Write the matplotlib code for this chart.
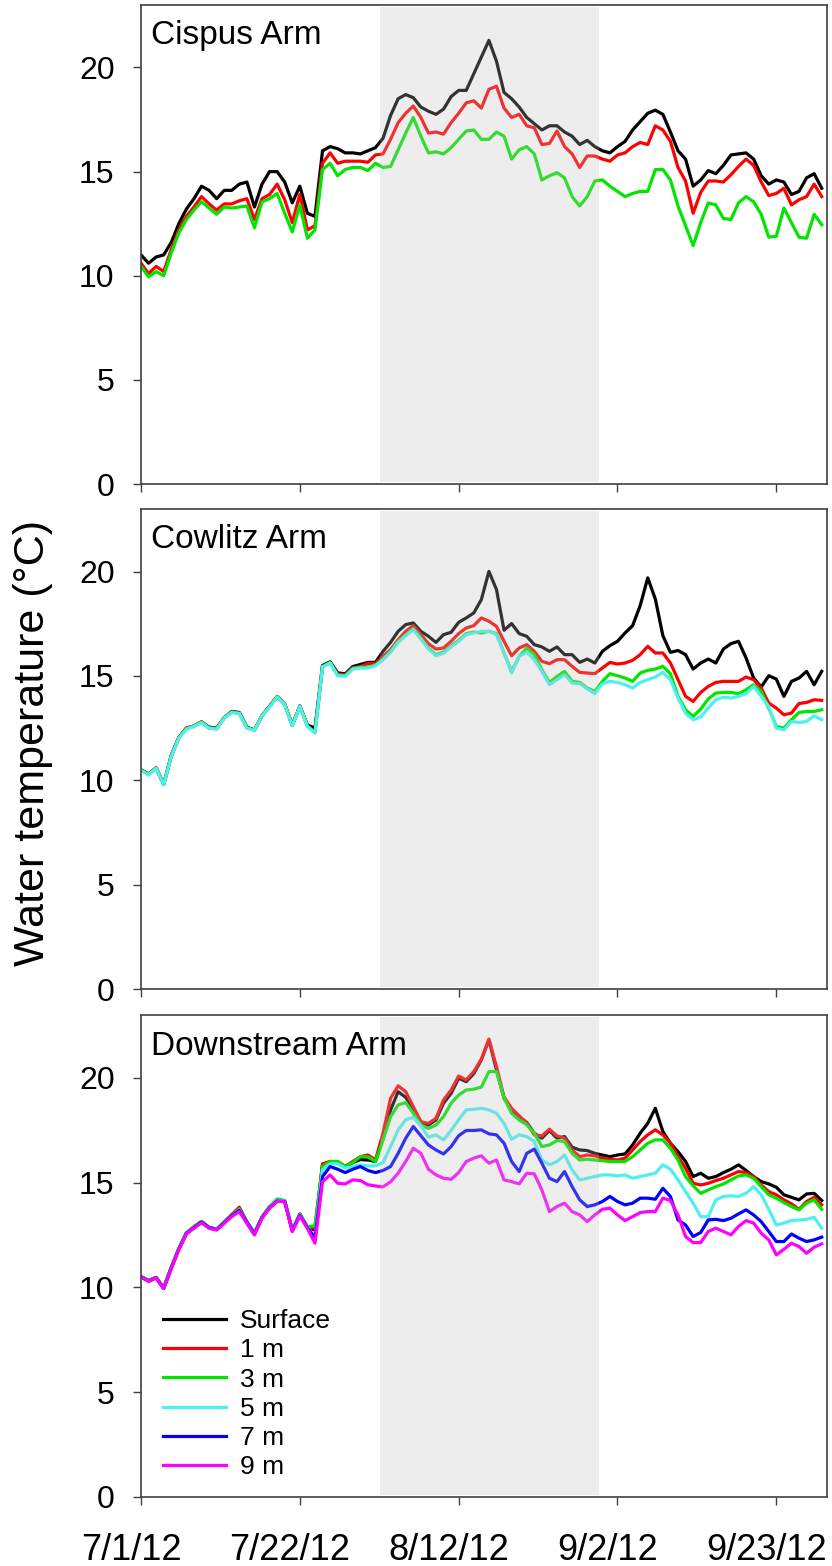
import pandas as pd
import matplotlib
matplotlib.use('Agg')
import matplotlib.pyplot as plt
from matplotlib.transforms import ScaledTranslation

plt.rcParams['font.family'] = ['Liberation Sans', 'DejaVu Sans']

# daily mean water temperature (deg C), 7/1/12 onward
dates = pd.date_range('2012-07-01', periods=91, freq='D')
tick_dates = pd.to_datetime(['2012-07-01', '2012-07-22', '2012-08-12', '2012-09-02', '2012-09-23'])
tick_labels = ['7/1/12', '7/22/12', '8/12/12', '9/2/12', '9/23/12']
shade_start = pd.Timestamp('2012-08-01 14:00')
shade_end = pd.Timestamp('2012-08-30 14:00')

depth_labels = ['Surface', '1 m', '3 m', '5 m', '7 m', '9 m']
depth_colors = ['#000000', '#ff0000', '#00e600', '#4cf0f0', '#0000ff', '#ff00ff']

# Cispus Arm
cispus_surface = [11.0, 10.6, 10.9, 11.0, 11.6, 12.5, 13.2, 13.7, 14.3, 14.1, 13.7, 14.1, 14.1, 14.4, 14.5, 13.3,
                  14.4, 15.0, 15.0, 14.5, 13.5, 14.3, 13.0, 12.85, 16.0, 16.2, 16.1, 15.9, 15.9, 15.85, 16.0, 16.15,
                  16.6, 17.7, 18.5, 18.7, 18.55, 18.1, 17.9, 17.75, 18.0, 18.6, 18.9, 18.9, 19.7, 20.5, 21.3, 20.3,
                  18.8, 18.5, 18.1, 17.6, 17.3, 17.0, 17.2, 17.2, 16.9, 16.7, 16.3, 16.5, 16.2, 16.0, 15.9, 16.2,
                  16.45, 17.0, 17.4, 17.8, 17.95, 17.75, 16.9, 16.0, 15.6, 14.3, 14.6, 15.05, 14.9, 15.3, 15.8, 15.85,
                  15.9, 15.6, 14.8, 14.4, 14.6, 14.5, 13.9, 14.05, 14.7, 14.9, 14.2]
cispus_1m = [10.6, 10.1, 10.45, 10.2, 11.25, 12.2, 12.85, 13.3, 13.8, 13.45, 13.15, 13.45, 13.45, 13.6, 13.7, 12.7,
             13.7, 13.9, 14.4, 13.65, 12.55, 13.9, 12.2, 12.4, 15.4, 15.9, 15.4, 15.5, 15.5, 15.5, 15.45, 15.8,
             15.85, 16.55, 17.35, 17.8, 18.15, 17.6, 16.85, 16.9, 16.8, 17.35, 17.8, 18.3, 18.4, 18.05, 18.95, 19.1,
             18.05, 17.6, 17.75, 17.2, 17.1, 16.3, 16.35, 16.95, 16.2, 15.85, 15.2, 15.75, 15.75, 15.6, 15.5, 15.8,
             15.9, 16.2, 16.4, 16.3, 17.2, 17.0, 16.45, 15.2, 14.55, 13.0, 14.0, 14.55, 14.55, 14.5, 14.85, 15.25,
             15.6, 15.3, 14.5, 13.85, 13.95, 14.2, 13.4, 13.65, 13.8, 14.4, 13.8]
cispus_3m = [10.45, 9.95, 10.2, 10.0, 11.1, 12.05, 12.7, 13.15, 13.55, 13.25, 12.95, 13.3, 13.25, 13.3, 13.35, 12.3,
             13.55, 13.7, 13.95, 13.0, 12.1, 13.4, 11.8, 12.2, 15.1, 15.4, 14.8, 15.1, 15.2, 15.2, 15.05, 15.4,
             15.2, 15.25, 16.05, 16.85, 17.6, 16.7, 15.9, 15.95, 15.85, 16.15, 16.55, 16.95, 17.0, 16.55, 16.55, 16.9,
             16.7, 15.6, 16.05, 16.2, 15.85, 14.6, 14.8, 14.95, 14.7, 13.8, 13.35, 13.8, 14.55, 14.6, 14.3, 14.05,
             13.8, 13.95, 14.05, 14.05, 15.1, 15.1, 14.6, 13.35, 12.4, 11.45, 12.55, 13.5, 13.4, 12.75, 12.7, 13.5,
             13.8, 13.55, 12.95, 11.85, 11.9, 13.25, 12.55, 11.85, 11.8, 12.95, 12.45]

# Cowlitz Arm
cowlitz_surface = [10.5, 10.3, 10.6, 9.8, 11.2, 12.05, 12.5, 12.6, 12.8, 12.55, 12.5, 13.0, 13.3, 13.25, 12.55, 12.4,
                   13.1, 13.55, 14.0, 13.65, 12.65, 13.55, 12.65, 12.5, 15.5, 15.68, 15.15, 15.1, 15.45, 15.55, 15.65,
                   15.65, 16.18, 16.61, 17.14, 17.46, 17.54, 17.14, 16.9, 16.61, 16.98, 17.09, 17.57, 17.78, 18.02,
                   18.66, 20.01, 19.14, 17.19, 17.51, 17.03, 16.9, 16.5, 16.39, 16.18, 16.39, 16.02, 16.02, 15.65,
                   15.81, 15.62, 16.18, 16.45, 16.66, 17.06, 17.41, 18.37, 19.7, 18.69, 16.93, 16.13, 16.22, 16.02,
                   15.33, 15.62, 15.81, 15.62, 16.29, 16.55, 16.66, 15.86, 14.9, 14.47, 15.01, 14.85, 14.02, 14.74,
                   14.9, 15.22, 14.58, 15.22]
cowlitz_1m = [10.5, 10.3, 10.6, 9.8, 11.15, 12.05, 12.5, 12.6, 12.8, 12.5, 12.5, 13.0, 13.28, 13.22, 12.52, 12.42,
              13.1, 13.55, 14.02, 13.65, 12.62, 13.57, 12.6, 12.3, 15.45, 15.65, 15.1, 15.05, 15.4, 15.45, 15.6,
              15.6, 15.94, 16.26, 16.74, 17.14, 17.41, 16.98, 16.55, 16.29, 16.34, 16.66, 17.03, 17.3, 17.41,
              17.78, 17.62, 17.38, 16.66, 15.97, 16.34, 16.5, 16.18, 15.7, 15.59, 15.78, 15.78, 15.46, 15.17,
              15.14, 15.11, 15.38, 15.65, 15.57, 15.62, 15.75, 16.02, 16.42, 16.1, 16.1, 15.62, 14.82, 14.02,
              13.78, 14.21, 14.5, 14.69, 14.74, 14.74, 14.74, 14.95, 14.82, 14.42, 13.7, 13.46, 13.14, 13.22,
              13.68, 13.73, 13.86, 13.83]
cowlitz_3m = [10.5, 10.28, 10.6, 9.8, 11.16, 12.04, 12.47, 12.6, 12.79, 12.52, 12.47, 13.0, 13.27, 13.22, 12.52, 12.41,
              13.11, 13.53, 14.01, 13.64, 12.63, 13.56, 12.6, 12.3, 15.45, 15.65, 15.05, 15.02, 15.36, 15.42, 15.42,
              15.53, 15.82, 16.18, 16.66, 16.98, 17.27, 16.82, 16.34, 16.02, 16.14, 16.44, 16.71, 17.03, 17.1,
              17.06, 17.14, 17.03, 16.1, 15.22, 15.94, 16.34, 16.02, 15.3, 14.69, 14.98, 15.22, 14.74, 14.69,
              14.42, 14.26, 14.74, 15.11, 15.01, 14.9, 14.74, 15.14, 15.27, 15.33, 15.46, 15.11, 14.02, 13.38,
              13.06, 13.41, 13.9, 14.18, 14.21, 14.21, 14.15, 14.34, 14.58, 14.26, 13.46, 12.58, 12.5, 12.9,
              13.25, 13.3, 13.3, 13.38]
cowlitz_5m = [10.47, 10.26, 10.58, 9.78, 11.14, 12.02, 12.45, 12.58, 12.77, 12.5, 12.45, 12.98, 13.25, 13.2, 12.5, 12.39,
              13.09, 13.51, 13.99, 13.62, 12.61, 13.54, 12.58, 12.26, 15.43, 15.62, 15.01, 14.98, 15.33, 15.38, 15.38,
              15.49, 15.78, 16.13, 16.61, 16.93, 17.22, 16.77, 16.29, 15.97, 16.09, 16.39, 16.66, 16.98, 17.06,
              17.14, 17.14, 16.98, 16.1, 15.14, 15.94, 16.13, 15.78, 15.22, 14.58, 14.82, 15.06, 14.66, 14.63,
              14.38, 14.15, 14.63, 14.74, 14.69, 14.58, 14.42, 14.69, 14.82, 14.95, 15.17, 14.82, 13.94, 13.22,
              12.9, 13.03, 13.46, 13.86, 13.98, 13.94, 14.02, 14.15, 14.5, 14.02, 13.54, 12.5, 12.42, 12.82,
              12.77, 12.82, 13.09, 12.9]

# Downstream Arm
down_surface = [10.52, 10.33, 10.48, 9.97, 10.95, 11.85, 12.6, 12.88, 13.15, 12.86, 12.78, 13.12, 13.45, 13.78, 13.12,
                12.58, 13.36, 13.85, 14.13, 14.12, 12.72, 13.5, 12.88, 12.74, 15.85, 16.01, 15.96, 15.77, 15.96, 16.1,
                16.08, 16.01, 17.12, 18.47, 19.34, 19.07, 18.55, 17.87, 17.75, 17.99, 18.79, 19.26, 19.98, 19.82,
                20.2, 20.86, 21.81, 20.38, 19.03, 18.47, 18.15, 17.87, 17.36, 17.12, 17.49, 17.12, 17.2, 16.69,
                16.56, 16.53, 16.4, 16.32, 16.24, 16.32, 16.37, 16.8, 17.36, 17.83, 18.55, 17.44, 16.88, 16.48,
                16.01, 15.29, 15.45, 15.21, 15.29, 15.48, 15.64, 15.85, 15.58, 15.29, 15.05, 14.94, 14.78, 14.42,
                14.3, 14.18, 14.46, 14.49, 14.15]
down_1m = [10.5, 10.32, 10.47, 9.97, 10.95, 11.85, 12.6, 12.9, 13.15, 12.86, 12.78, 13.12, 13.48, 13.83, 13.12, 12.58,
           13.36, 13.85, 14.15, 14.13, 12.72, 13.5, 12.88, 12.83, 15.9, 16.01, 16.01, 15.77, 16.01, 16.24, 16.32,
           16.08, 17.36, 19.03, 19.62, 19.34, 18.63, 17.91, 17.83, 18.07, 18.95, 19.42, 20.09, 19.9, 20.3, 20.9,
           21.85, 20.54, 19.08, 18.55, 18.19, 17.83, 17.28, 17.23, 17.55, 17.23, 17.12, 16.56, 16.24, 16.32, 16.28,
           16.17, 16.12, 16.08, 16.17, 16.56, 16.96, 17.28, 17.52, 17.28, 16.88, 16.24, 15.69, 14.97, 14.89, 14.97,
           15.1, 15.21, 15.37, 15.53, 15.48, 15.29, 14.89, 14.57, 14.42, 14.18, 13.99, 13.73, 14.1, 14.3, 13.94]
down_3m = [10.5, 10.32, 10.47, 9.97, 10.95, 11.85, 12.6, 12.88, 13.15, 12.86, 12.78, 13.12, 13.45, 13.75, 13.12, 12.6,
           13.36, 13.85, 14.22, 14.15, 12.75, 13.5, 12.9, 12.94, 15.77, 16.01, 16.01, 15.77, 15.96, 16.24, 16.24,
           16.01, 17.04, 18.15, 18.71, 18.82, 18.31, 17.75, 17.59, 17.75, 18.15, 18.79, 19.18, 19.42, 19.46, 19.56,
           20.3, 20.3, 19.03, 18.31, 17.99, 17.76, 17.36, 16.72, 16.8, 17.01, 16.96, 16.4, 16.08, 16.12, 16.08,
           16.05, 16.01, 16.01, 16.01, 16.24, 16.56, 16.88, 17.04, 17.04, 16.64, 16.08, 15.29, 14.85, 14.49, 14.65,
           14.81, 14.94, 15.13, 15.32, 15.37, 15.21, 14.81, 14.42, 14.26, 14.05, 13.86, 13.7, 14.02, 14.18, 13.73]
down_5m = [10.5, 10.3, 10.45, 9.95, 10.93, 11.83, 12.58, 12.86, 13.13, 12.84, 12.77, 13.1, 13.42, 13.7, 13.1, 12.56,
           13.33, 13.82, 14.15, 14.12, 12.72, 13.47, 12.86, 12.43, 15.61, 15.9, 15.9, 15.69, 15.77, 15.85, 15.8,
           15.8, 15.96, 16.72, 17.52, 18.0, 18.12, 17.71, 17.17, 17.28, 17.04, 17.49, 18.0, 18.47, 18.5, 18.55,
           18.47, 18.31, 17.83, 17.07, 17.28, 17.2, 16.96, 16.08, 15.85, 16.01, 16.32, 15.61, 15.13, 15.21, 15.29,
           15.37, 15.37, 15.32, 15.37, 15.21, 15.29, 15.37, 15.45, 15.85, 15.64, 15.13, 14.57, 14.02, 13.38, 13.38,
           14.18, 14.34, 14.37, 14.34, 14.49, 14.81, 14.42, 13.73, 12.98, 13.07, 13.19, 13.22, 13.25, 13.35, 12.83]
down_7m = [10.5, 10.3, 10.45, 9.95, 10.92, 11.82, 12.57, 12.85, 13.12, 12.85, 12.76, 13.08, 13.42, 13.68, 13.1, 12.55,
           13.32, 13.8, 14.12, 14.1, 12.7, 13.45, 12.85, 12.35, 15.29, 15.77, 15.64, 15.48, 15.64, 15.77, 15.58,
           15.48, 15.58, 15.77, 16.4, 17.12, 17.68, 17.24, 16.8, 16.56, 16.37, 16.72, 17.24, 17.49, 17.49, 17.52,
           17.33, 17.28, 16.88, 16.01, 15.53, 16.4, 16.6, 15.93, 15.21, 15.05, 15.53, 14.81, 14.18, 13.86, 13.94,
           14.1, 14.34, 14.1, 13.94, 14.02, 14.26, 14.26, 14.21, 14.73, 14.34, 13.22, 12.98, 12.43, 12.62, 13.22,
           13.25, 13.19, 13.3, 13.51, 13.7, 13.46, 13.14, 12.67, 12.19, 12.19, 12.55, 12.35, 12.19, 12.27, 12.4]
down_9m = [10.5, 10.3, 10.45, 9.95, 10.9, 11.8, 12.55, 12.82, 13.09, 12.82, 12.74, 13.06, 13.38, 13.62, 13.06, 12.5,
           13.3, 13.78, 14.1, 14.1, 12.66, 13.41, 12.82, 12.11, 15.04, 15.37, 14.97, 14.94, 15.13, 15.1, 14.9,
           14.84, 14.8, 15.04, 15.45, 16.01, 16.64, 16.4, 15.64, 15.37, 15.21, 15.16, 15.48, 16.01, 16.17, 16.28,
           15.93, 16.08, 15.13, 15.05, 14.94, 15.45, 15.42, 14.65, 13.62, 13.86, 14.02, 13.62, 13.46, 13.14, 13.46,
           13.73, 13.78, 13.46, 13.19, 13.38, 13.57, 13.62, 13.62, 14.26, 14.15, 13.46, 12.43, 12.14, 12.14, 12.67,
           12.83, 12.67, 12.51, 12.91, 13.19, 13.07, 12.59, 12.27, 11.55, 11.82, 12.11, 11.95, 11.63, 11.92, 12.08]

panels = [
    ('Cispus Arm', [cispus_surface, cispus_1m, cispus_3m]),
    ('Cowlitz Arm', [cowlitz_surface, cowlitz_1m, cowlitz_3m, cowlitz_5m]),
    ('Downstream Arm', [down_surface, down_1m, down_3m, down_5m, down_7m, down_9m]),
]

fig = plt.figure(figsize=(8.32, 15.66), dpi=100)
W, H = 832, 1566
left, right = 141, 827
boxes = [(5, 484), (509, 989), (1015, 1497)]

spine_col = '#404040'
axes = []
for (title, series), (top, bot) in zip(panels, boxes):
    ax = fig.add_axes([left / W, 1 - bot / H, (right - left) / W, (bot - top) / H])
    axes.append(ax)
    for vals, lab, col in zip(series, depth_labels, depth_colors):
        ax.plot(dates, vals, color=col, lw=2.3, label=lab, zorder=2)
    # shaded period drawn over the lines
    ax.axvspan(shade_start, shade_end, ymin=0.005, ymax=0.995,
               facecolor=(0.75, 0.75, 0.75), alpha=0.27, lw=0, zorder=3)
    ax.set_ylim(0, 23)
    ax.set_xlim(dates[0], dates[0] + pd.Timedelta(days=90.7))
    ax.set_yticks([0, 5, 10, 15, 20])
    ax.set_xticks(tick_dates)
    ax.set_xticklabels([])
    ax.tick_params(axis='y', direction='out', length=6, width=1, color=spine_col, labelsize=23, pad=13)
    ax.tick_params(axis='x', direction='out', length=6, width=1, color=spine_col)
    for sp in ax.spines.values():
        sp.set_color(spine_col)
        sp.set_linewidth(1.2)
    ax.text(0.0146, 0.918, title, transform=ax.transAxes, fontsize=24, ha='left', va='baseline')

ax3 = axes[2]
ax3.set_xticklabels(tick_labels, fontsize=26)
ax3.tick_params(axis='x', pad=20)
shift = ScaledTranslation(-10 / 100, 0, fig.dpi_scale_trans)
for lab in ax3.get_xticklabels():
    lab.set_transform(lab.get_transform() + shift)

leg = ax3.legend(loc='upper left', bbox_to_anchor=(0.032, 0.39), frameon=False, fontsize=19,
                 handlelength=2.4, handletextpad=0.52, labelspacing=0.2, borderpad=0, borderaxespad=0)

fig.text(33 / W, 1 - 743 / H, 'Water temperature (\u00b0C)', rotation=90, fontsize=31,
         ha='center', va='center')

fig.savefig('out.png', dpi=100)
